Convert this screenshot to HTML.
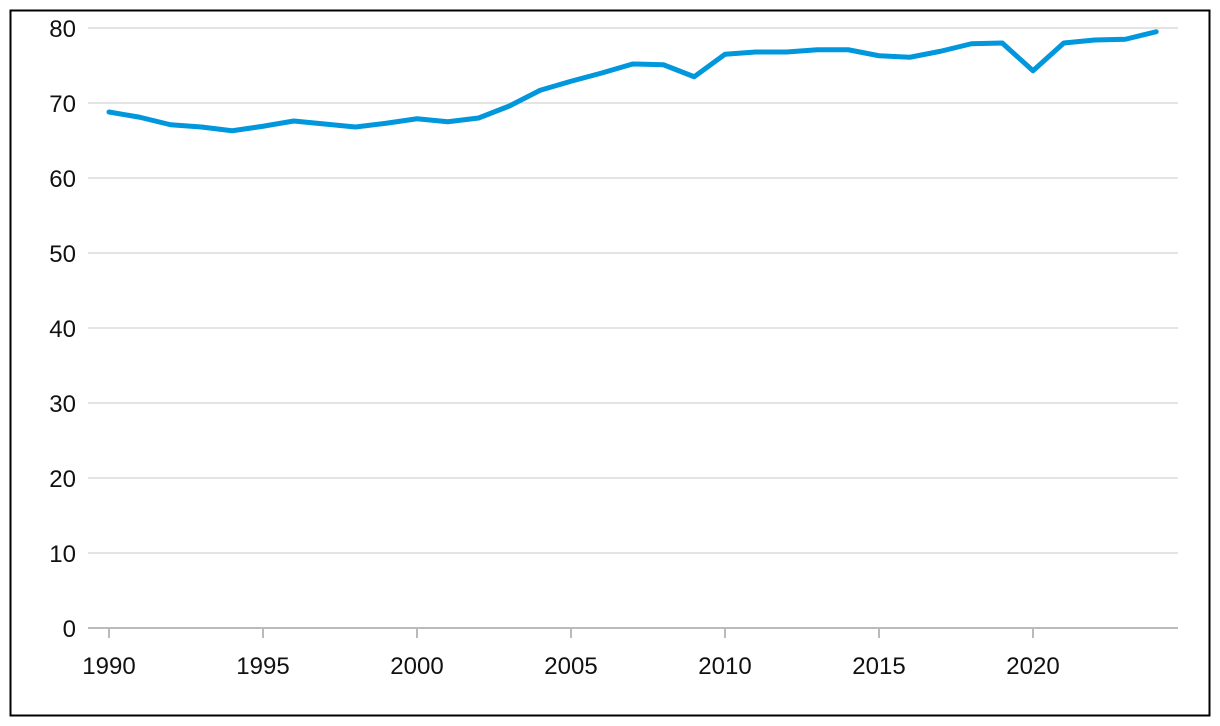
<!DOCTYPE html>
<html><head><meta charset="utf-8"><style>
body{margin:0;background:#fff;width:1220px;height:726px;overflow:hidden}
svg{display:block}
text{font-family:"Liberation Sans",sans-serif;font-size:24px;fill:#111}
</style></head><body>
<svg width="1220" height="726">
<rect x="10.5" y="10.5" width="1199" height="705" fill="#fff" stroke="#000" stroke-width="2"/>
<g id="grid"></g>
<g id="yl"></g>
<g id="xl"></g>
<path id="line" fill="none" stroke="#0097dc" stroke-width="5" stroke-linejoin="round" stroke-linecap="round"/>
</svg>
<script>
const years=[1990,1991,1992,1993,1994,1995,1996,1997,1998,1999,2000,2001,2002,2003,2004,2005,2006,2007,2008,2009,2010,2011,2012,2013,2014,2015,2016,2017,2018,2019,2020,2021,2022,2023,2024];
const values=[68.8,68.1,67.1,66.8,66.3,66.9,67.6,67.2,66.8,67.3,67.9,67.5,68.0,69.6,71.7,72.9,74.0,75.2,75.1,73.5,76.5,76.8,76.8,77.1,77.1,76.3,76.1,76.9,77.9,78.0,74.3,78.0,78.4,78.5,79.5];
const yTicks=[0,10,20,30,40,50,60,70,80];
const xTicks=[1990,1995,2000,2005,2010,2015,2020];
const ns="http://www.w3.org/2000/svg";
const x=v=>109+(v-1990)*30.8;
const y=v=>628-v*7.5;
const grid=document.getElementById('grid'),yl=document.getElementById('yl'),xl=document.getElementById('xl');
function mk(t,a,p){const e=document.createElementNS(ns,t);for(const k in a)e.setAttribute(k,a[k]);p.appendChild(e);return e;}
yTicks.forEach(v=>{
 const l=mk('line',{x1:88,x2:1178,y1:y(v),y2:y(v),stroke:v===0?'#bbb':'#c8c8c8','stroke-width':v===0?2:1},grid);
 
 
 const t=mk('text',{x:76,y:y(v)+9,'text-anchor':'end'},yl);t.textContent=v;
 
 
});
xTicks.forEach(v=>{
 const l=mk('line',{x1:x(v),x2:x(v),y1:628,y2:638,stroke:'#bbb','stroke-width':2},grid);
 
 
 const t=mk('text',{x:x(v),y:674,'text-anchor':'middle'},xl);t.textContent=v;
 
 
});
document.getElementById('line').setAttribute('d',years.map((yr,i)=>(i?'L':'M')+x(yr)+','+y(values[i])).join(''));
</script>
</body></html>
